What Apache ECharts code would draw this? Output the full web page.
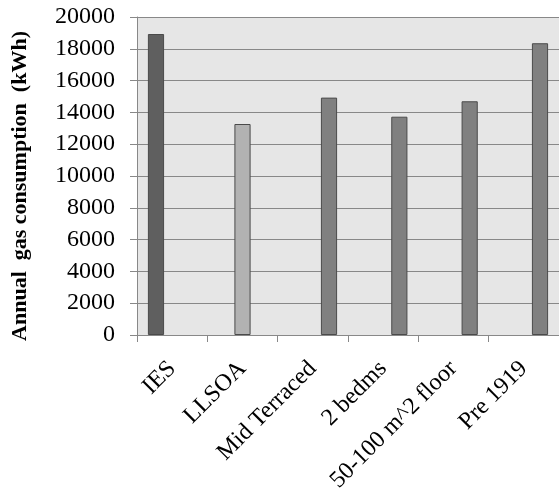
<!DOCTYPE html>
<html><head><meta charset="utf-8">
<script src="https://cdn.jsdelivr.net/npm/echarts@6/dist/echarts.min.js"></script>
<style>html,body{margin:0;padding:0;background:#fff}#c{width:559px;height:500px}</style>
</head><body><div id="c"></div>
<script>
const categories = ['IES', 'LLSOA', 'Mid Terraced', '2 bedms', '50-100 m^2 floor', 'Pre 1919'];
const iesValues = [18930, null, null, null, null, null];
const llsoaValues = [null, 13270, null, null, null, null];
const attributeValues = [null, null, 14930, 13730, 14700, 18350];
const yTicks = [0, 2000, 4000, 6000, 8000, 10000, 12000, 14000, 16000, 18000, 20000];
const yTitle = 'Annual  gas consumption  (kWh)';

const chart = echarts.init(document.getElementById('c'), null, {renderer: 'canvas'});
const font = 'Liberation Serif';
const barBase = {type: 'bar', barGap: '0%', barCategoryGap: '31%', itemStyle: {borderColor: '#4a4a4a', borderWidth: 1}};
chart.setOption({
  animation: false,
  grid: {left: 137, top: 17, right: 0, bottom: 165, show: true, backgroundColor: '#e6e6e6', borderWidth: 0},
  xAxis: {
    type: 'category', data: categories,
    axisLine: {lineStyle: {color: '#888', width: 1}},
    axisTick: {show: true, length: 7, lineStyle: {color: '#888'}},
    axisLabel: {rotate: 45, interval: 0, margin: 30, color: '#000', fontFamily: font, fontSize: 24}
  },
  yAxis: {
    type: 'value', min: yTicks[0], max: yTicks[yTicks.length - 1], interval: 2000,
    name: yTitle, nameLocation: 'middle', nameGap: 106, nameRotate: 90,
    nameTextStyle: {fontFamily: font, fontWeight: 'bold', fontSize: 22, color: '#000', padding: [0, 20, 0, 0]},
    axisLine: {show: true, lineStyle: {color: '#888', width: 1}},
    axisTick: {show: true, length: 7, lineStyle: {color: '#888'}},
    axisLabel: {margin: 22, color: '#000', fontFamily: font, fontSize: 24, formatter: v => String(v)},
    splitLine: {lineStyle: {color: '#888', width: 1}}
  },
  series: [
    Object.assign({}, barBase, {name: 'IES', data: iesValues, itemStyle: Object.assign({}, barBase.itemStyle, {color: '#5f5f5f'})}),
    Object.assign({}, barBase, {name: 'LLSOA', data: llsoaValues, itemStyle: Object.assign({}, barBase.itemStyle, {color: '#b2b2b2'})}),
    Object.assign({}, barBase, {name: 'Attributes', data: attributeValues, itemStyle: Object.assign({}, barBase.itemStyle, {color: '#808080'})})
  ]
});
</script></body></html>
